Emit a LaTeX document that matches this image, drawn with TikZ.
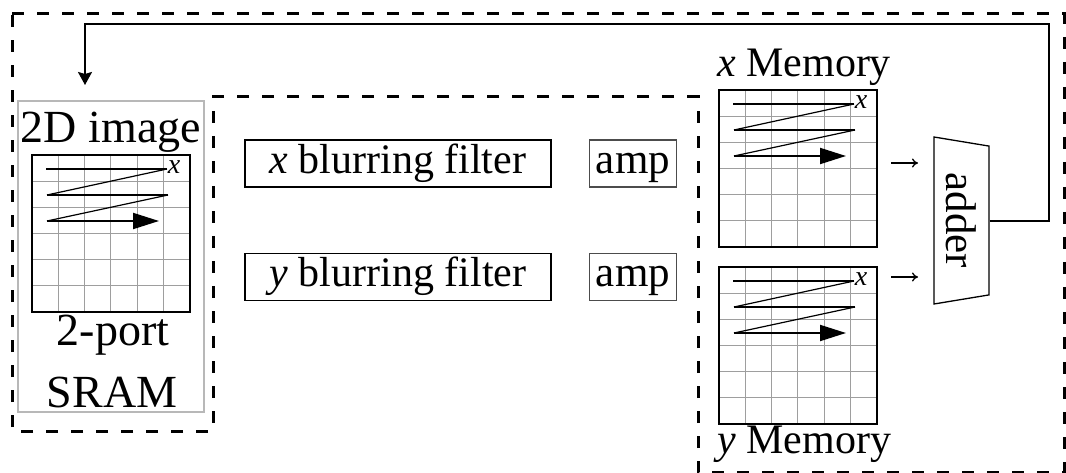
\documentclass[tikz,border=0pt]{standalone}
\usepackage{fontspec}
\setmainfont{Liberation Serif}
\usetikzlibrary{arrows.meta,positioning,shapes.geometric}
\definecolor{gridgray}{gray}{0.62}
\definecolor{framegray}{gray}{0.72}
\tikzset{
  outline/.style   = {line width=3pt, dash pattern=on 12pt off 13pt},
  filterbox/.style = {draw, line width=1.8pt, minimum width=306pt, minimum height=47pt,
                      inner sep=0pt, font=\fontsize{42}{46}\selectfont,
                      text height=29pt, text depth=9pt},
  ampbox/.style    = {draw=black!70, line width=1.2pt, minimum width=87pt, minimum height=47pt,
                      inner sep=0pt, font=\fontsize{43}{46}\selectfont,
                      text height=29pt, text depth=9pt},
  bigtext/.style   = {font=\fontsize{46}{50}\selectfont, inner sep=0pt},
  labtext/.style   = {font=\fontsize{42}{46}\selectfont, inner sep=0pt},
  cellline/.style  = {gridgray, line width=1pt},
  memframe/.style  = {line width=1.5pt},
  scanrow/.style   = {line width=2pt},
  scandiag/.style  = {line width=1.2pt},
  feed/.style      = {line width=2pt, -{Stealth[length=13pt,width=14pt,inset=2pt]}},
  sumarrow/.style  = {line width=1.3pt, -{To[length=6pt,width=9pt]}},
  scanmem/.pic     = {
    \foreach \k in {1,...,5}{
      \draw[cellline] (\k*26.33,0) -- (\k*26.33,157);
      \draw[cellline] (0,\k*26.17) -- (158,\k*26.17);}
    \draw[memframe] (0,0) rectangle (158,157);
    % raster scan order
    \draw[scanrow]  (14,14) -- (135,14);
    \draw[scandiag] (135,14) -- (15,40);
    \draw[scanrow]  (15,40) -- (136,40);
    \draw[scandiag] (136,40) -- (15,66);
    \draw[scanrow,-{Triangle[length=26pt,width=16pt]}] (15,66) -- (127,66);
    \node[font=\fontsize{28}{30}\selectfont\itshape, inner sep=0pt] (-x) at (142,12) {x};
  },
}

\begin{document}
\begin{tikzpicture}[x=1pt,y=-1pt]
  \useasboundingbox (0,0) rectangle (1066,473);

  % dashed border around the datapath
  \draw[outline] (12,14) -- (1064,14) -- (1064,472) -- (698,472) -- (698,97)
    -- (213,97) -- (213,431) -- (12,431) -- cycle;

  % frame memory
  \node[draw=framegray, line width=1.5pt, minimum width=186pt, minimum height=311pt,
        inner sep=0pt] (sram) at (111,256.5) {};
  \node[bigtext, anchor=base] (sramtop) at (111,143) {2D image};
  \pic (sramgrid) at (32,155) {scanmem};
  \node[bigtext, anchor=base] (sramport) at (113,345) {2-port};
  \node[bigtext, anchor=base] (sramname) at (112,407) {SRAM};

  % filters and amplifiers
  \node[filterbox] (xfilt) at (398,163.5) {\textit{x} blurring filter};
  \node[filterbox] (yfilt) at (398,277) {\textit{y} blurring filter};
  \node[ampbox, right=37pt of xfilt] (xamp) {amp};
  \node[ampbox, right=37pt of yfilt] (yamp) {amp};

  % line memories
  \node[labtext, anchor=base west] (xmemlab) at (717,77) {\textit{x} Memory};
  \pic (xmem) at (719,90) {scanmem};
  \pic (ymem) at (719,267) {scanmem};
  \node[labtext, anchor=base west] (ymemlab) at (717,453) {\textit{y} Memory};

  % adder
  \node[draw, line width=1.3pt, trapezium, trapezium angle=73.3, trapezium stretches body,
        minimum width=167pt, minimum height=55pt, inner sep=0pt, rotate=-90,
        font=\fontsize{43}{46}\selectfont] (adder) at (961.5,220.5) {adder};

  \coordinate (xs) at (891,163);
  \coordinate (xt) at (918,163);
  \coordinate (ys) at (891,277);
  \coordinate (yt) at (918,277);
  \draw[sumarrow] (xs) -- (xt);
  \draw[sumarrow] (ys) -- (yt);

  % write-back path
  \coordinate (fbturn) at (1049,24);
  \coordinate (fbin) at (85,85);
  \draw[feed] (adder.north) -| (fbturn) -| (fbin);
\end{tikzpicture}
\end{document}
